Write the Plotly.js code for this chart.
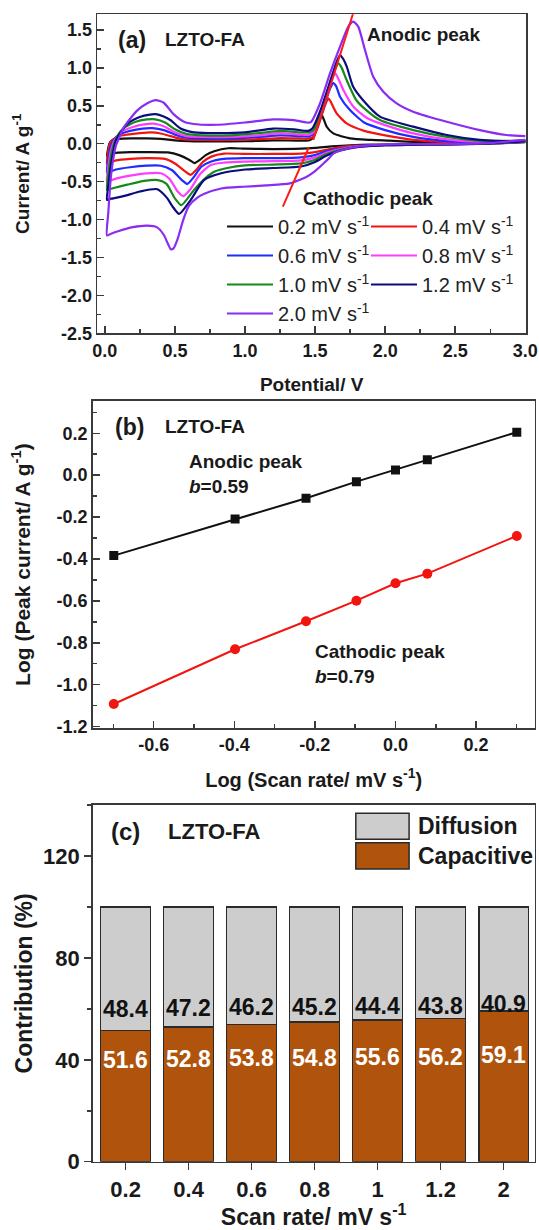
<!DOCTYPE html>
<html>
<head>
<meta charset="utf-8">
<script src="https://cdn.plot.ly/plotly-3.0.1.min.js"></script>
<style>
  html, body { margin: 0; padding: 0; background: #fff; }
  #chart { width: 539px; height: 1230px; }
</style>
</head>
<body>
<div id="chart"></div>
<script>
// ---------- (a) cyclic voltammograms: cathodic sweep from 3.0 V down, then anodic sweep back up ----------
const cv02V = [3.0, 2.7, 2.4, 2.1, 1.9, 1.75, 1.62, 1.5, 1.4, 1.2, 1.0, 0.88, 0.78, 0.72, 0.68, 0.64, 0.6, 0.53, 0.45, 0.3, 0.18, 0.08, 0.035, 0.015,
  0.022, 0.032, 0.05, 0.1, 0.2, 0.3, 0.4, 0.5, 0.6, 0.8, 1.0, 1.2, 1.4, 1.46, 1.49, 1.515, 1.535, 1.547, 1.56, 1.583, 1.63, 1.75, 1.9, 2.03, 2.2, 2.5, 2.8, 3.0];
const cv02I = [0.02, 0.0, -0.005, -0.01, -0.012, -0.02, -0.035, -0.055, -0.065, -0.07, -0.065, -0.06, -0.1, -0.15, -0.21, -0.255, -0.21, -0.15, -0.115, -0.11, -0.112, -0.12, -0.135, -0.16,
  -0.08, 0.0, 0.045, 0.065, 0.07, 0.07, 0.065, 0.045, 0.035, 0.03, 0.033, 0.045, 0.04, 0.045, 0.09, 0.22, 0.34, 0.38, 0.33, 0.224, 0.136, 0.07, 0.05, 0.04, 0.025, 0.012, 0.01, 0.03];

const cv04V = [3.0, 2.7, 2.3, 2.0, 1.8, 1.68, 1.58, 1.5, 1.4, 1.2, 1.0, 0.85, 0.76, 0.7, 0.65, 0.613, 0.57, 0.5, 0.43, 0.3, 0.18, 0.08, 0.035, 0.015,
  0.022, 0.035, 0.055, 0.1, 0.16, 0.25, 0.33, 0.4, 0.47, 0.55, 0.7, 0.9, 1.1, 1.25, 1.4, 1.46, 1.49, 1.52, 1.555, 1.58, 1.595, 1.61, 1.654, 1.725, 1.85, 2.0, 2.2, 2.45, 2.7, 3.0];
const cv04I = [0.025, 0.0, -0.01, -0.015, -0.025, -0.045, -0.08, -0.11, -0.13, -0.135, -0.135, -0.13, -0.17, -0.24, -0.35, -0.41, -0.36, -0.26, -0.2, -0.19, -0.2, -0.22, -0.25, -0.27,
  -0.12, 0.0, 0.05, 0.1, 0.12, 0.14, 0.15, 0.135, 0.1, 0.06, 0.05, 0.05, 0.06, 0.075, 0.07, 0.07, 0.1, 0.22, 0.42, 0.55, 0.6, 0.56, 0.4, 0.268, 0.17, 0.11, 0.05, 0.02, 0.01, 0.03];

const cv06V = [3.0, 2.7, 2.3, 2.0, 1.8, 1.68, 1.58, 1.5, 1.4, 1.2, 1.0, 0.85, 0.75, 0.69, 0.63, 0.589, 0.55, 0.48, 0.4, 0.3, 0.18, 0.08, 0.035, 0.015,
  0.025, 0.04, 0.06, 0.1, 0.18, 0.27, 0.34, 0.42, 0.5, 0.58, 0.7, 0.9, 1.1, 1.25, 1.4, 1.46, 1.49, 1.53, 1.58, 1.61, 1.63, 1.65, 1.678, 1.749, 1.85, 2.0, 2.2, 2.44, 2.7, 3.0];
const cv06I = [0.025, 0.0, -0.01, -0.015, -0.03, -0.06, -0.1, -0.15, -0.18, -0.19, -0.19, -0.2, -0.24, -0.3, -0.45, -0.53, -0.48, -0.35, -0.29, -0.29, -0.31, -0.34, -0.37, -0.38,
  -0.2, -0.04, 0.04, 0.12, 0.17, 0.2, 0.205, 0.18, 0.12, 0.08, 0.07, 0.07, 0.09, 0.11, 0.1, 0.1, 0.13, 0.3, 0.58, 0.74, 0.8, 0.76, 0.62, 0.444, 0.28, 0.18, 0.09, 0.035, 0.015, 0.035];

const cv08V = [3.0, 2.7, 2.3, 2.0, 1.8, 1.68, 1.58, 1.5, 1.4, 1.2, 1.0, 0.85, 0.755, 0.68, 0.61, 0.56, 0.52, 0.46, 0.4, 0.3, 0.18, 0.08, 0.035, 0.015,
  0.025, 0.045, 0.07, 0.12, 0.2, 0.28, 0.35, 0.42, 0.5, 0.58, 0.7, 0.9, 1.1, 1.25, 1.4, 1.46, 1.49, 1.53, 1.59, 1.625, 1.642, 1.66, 1.702, 1.772, 1.87, 2.0, 2.2, 2.44, 2.7, 3.0];
const cv08I = [0.03, 0.0, -0.01, -0.02, -0.035, -0.07, -0.12, -0.18, -0.22, -0.23, -0.235, -0.25, -0.28, -0.4, -0.6, -0.69, -0.63, -0.46, -0.39, -0.39, -0.42, -0.46, -0.49, -0.5,
  -0.3, -0.08, 0.05, 0.16, 0.22, 0.255, 0.265, 0.23, 0.15, 0.1, 0.09, 0.09, 0.11, 0.14, 0.12, 0.12, 0.15, 0.33, 0.66, 0.87, 0.93, 0.88, 0.708, 0.49, 0.34, 0.245, 0.136, 0.057, 0.025, 0.04];

const cv10V = [3.0, 2.7, 2.3, 2.0, 1.8, 1.68, 1.58, 1.5, 1.4, 1.2, 1.0, 0.874, 0.78, 0.72, 0.636, 0.546, 0.5, 0.44, 0.38, 0.28, 0.16, 0.07, 0.03, 0.015,
  0.025, 0.05, 0.08, 0.13, 0.22, 0.3, 0.36, 0.43, 0.5, 0.58, 0.7, 0.9, 1.1, 1.25, 1.4, 1.46, 1.49, 1.54, 1.6, 1.64, 1.666, 1.69, 1.725, 1.796, 1.88, 1.963, 2.2, 2.44, 2.676, 3.0];
const cv10I = [0.03, 0.0, -0.01, -0.02, -0.04, -0.08, -0.14, -0.21, -0.26, -0.275, -0.285, -0.32, -0.37, -0.45, -0.61, -0.81, -0.72, -0.53, -0.48, -0.49, -0.54, -0.58, -0.6, -0.61,
  -0.4, -0.1, 0.07, 0.2, 0.29, 0.32, 0.322, 0.28, 0.19, 0.13, 0.11, 0.11, 0.14, 0.17, 0.15, 0.15, 0.18, 0.42, 0.75, 0.97, 1.06, 1.0, 0.84, 0.57, 0.42, 0.312, 0.18, 0.09, 0.04, 0.04];

const cv12V = [3.0, 2.7, 2.3, 2.0, 1.8, 1.68, 1.58, 1.5, 1.4, 1.2, 1.0, 0.83, 0.707, 0.613, 0.53, 0.48, 0.446, 0.375, 0.25, 0.161, 0.06, 0.03, 0.015,
  0.025, 0.05, 0.08, 0.113, 0.16, 0.208, 0.28, 0.363, 0.42, 0.47, 0.54, 0.636, 0.8, 1.0, 1.2, 1.35, 1.45, 1.48, 1.54, 1.6, 1.65, 1.678, 1.7, 1.726, 1.772, 1.844, 1.963, 2.2, 2.44, 2.676, 2.9, 3.0];
const cv12I = [0.035, 0.0, -0.01, -0.02, -0.045, -0.09, -0.16, -0.24, -0.3, -0.32, -0.34, -0.39, -0.48, -0.74, -0.925, -0.82, -0.72, -0.6, -0.63, -0.677, -0.72, -0.73, -0.74,
  -0.55, -0.2, 0.05, 0.15, 0.26, 0.32, 0.37, 0.39, 0.36, 0.31, 0.2, 0.15, 0.14, 0.15, 0.2, 0.19, 0.17, 0.2, 0.45, 0.78, 1.06, 1.17, 1.12, 1.016, 0.75, 0.57, 0.357, 0.225, 0.115, 0.05, 0.03, 0.04];

const cv20V = [3.0, 2.7, 2.3, 2.03, 1.9, 1.8, 1.7, 1.63, 1.6, 1.56, 1.5, 1.44, 1.32, 1.15, 0.99, 0.83, 0.71, 0.66, 0.6, 0.56, 0.52, 0.49, 0.47, 0.45, 0.42, 0.37, 0.3, 0.2, 0.1, 0.04, 0.015,
  0.025, 0.04, 0.06, 0.08, 0.1, 0.13, 0.16, 0.232, 0.3, 0.363, 0.42, 0.49, 0.565, 0.636, 0.8, 1.0, 1.2, 1.35, 1.44, 1.47, 1.535, 1.607, 1.678, 1.737, 1.772, 1.808, 1.856, 1.915, 1.987, 2.082, 2.2, 2.44, 2.676, 2.866, 3.0];
const cv20I = [0.05, 0.005, -0.005, -0.01, -0.02, -0.04, -0.08, -0.13, -0.19, -0.26, -0.36, -0.435, -0.523, -0.55, -0.567, -0.59, -0.66, -0.71, -0.82, -1.0, -1.25, -1.38, -1.39, -1.32, -1.2, -1.1, -1.08, -1.1, -1.15, -1.19, -1.21,
  -0.9, -0.5, -0.2, -0.02, 0.07, 0.2, 0.28, 0.44, 0.53, 0.575, 0.54, 0.39, 0.29, 0.26, 0.25, 0.28, 0.32, 0.31, 0.28, 0.285, 0.53, 0.93, 1.28, 1.544, 1.61, 1.544, 1.236, 0.884, 0.686, 0.533, 0.423, 0.29, 0.18, 0.115, 0.1];

// guide lines through the anodic and cathodic peak positions
const anodicGuideV = [1.487, 1.78];
const anodicGuideI = [0.05, 1.77];
const cathodicGuideV = [1.27, 1.455];
const cathodicGuideI = [-0.83, -0.05];

// ---------- (b) log peak current vs log scan rate ----------
const logScanRate = [-0.699, -0.398, -0.222, -0.097, 0.0, 0.079, 0.301];
const logAnodicPeak = [-0.384, -0.209, -0.110, -0.031, 0.025, 0.073, 0.205];
const logCathodicPeak = [-1.092, -0.831, -0.697, -0.599, -0.516, -0.470, -0.290];

// ---------- (c) capacitive / diffusion contribution ----------
const scanRateLabels = ['0.2', '0.4', '0.6', '0.8', '1', '1.2', '2'];
const capacitivePct = [51.6, 52.8, 53.8, 54.8, 55.6, 56.2, 59.1];
const diffusionPct = [48.4, 47.2, 46.2, 45.2, 44.4, 43.8, 40.9];

// tick labels
const cvPotentialTicks = [0, 0.5, 1.0, 1.5, 2.0, 2.5, 3.0];
const cvCurrentTicks = [-2.5, -2.0, -1.5, -1.0, -0.5, 0.0, 0.5, 1.0, 1.5];
const logRateTicks = [-0.6, -0.4, -0.2, 0.0, 0.2];
const logPeakTicks = [-1.2, -1.0, -0.8, -0.6, -0.4, -0.2, 0.0, 0.2];
const contributionTicks = [0, 40, 80, 120];

const FONT = 'Liberation Sans, Arial, Helvetica, sans-serif';
const INK = '#1a1a1a';
const FRAME = '#3a3a3a';

const cvSeries = [
  { name: '0.2 mV s<sup>-1</sup>', V: cv02V, I: cv02I, color: '#111111', legend: 'legend' },
  { name: '0.4 mV s<sup>-1</sup>', V: cv04V, I: cv04I, color: '#f2140f', legend: 'legend2' },
  { name: '0.6 mV s<sup>-1</sup>', V: cv06V, I: cv06I, color: '#1f2cff', legend: 'legend' },
  { name: '0.8 mV s<sup>-1</sup>', V: cv08V, I: cv08I, color: '#ff3cff', legend: 'legend2' },
  { name: '1.0 mV s<sup>-1</sup>', V: cv10V, I: cv10I, color: '#16891b', legend: 'legend' },
  { name: '1.2 mV s<sup>-1</sup>', V: cv12V, I: cv12I, color: '#0c0c7c', legend: 'legend2' },
  { name: '2.0 mV s<sup>-1</sup>', V: cv20V, I: cv20I, color: '#8a2cf3', legend: 'legend' }
];

const fmt1 = v => v.toFixed(1);

const traces = [];
cvSeries.forEach(s => {
  traces.push({
    type: 'scatter', mode: 'lines', x: s.V, y: s.I, name: s.name,
    xaxis: 'x', yaxis: 'y', legend: s.legend,
    line: { color: s.color, width: 2.2, shape: 'spline', smoothing: 0.6 },
    hoverinfo: 'skip'
  });
});
[[anodicGuideV, anodicGuideI], [cathodicGuideV, cathodicGuideI]].forEach(g => {
  traces.push({
    type: 'scatter', mode: 'lines', x: g[0], y: g[1], xaxis: 'x', yaxis: 'y',
    showlegend: false, line: { color: '#ff1a1a', width: 2 }, hoverinfo: 'skip'
  });
});

// (b) fitted lines with markers
traces.push({
  type: 'scatter', mode: 'lines+markers', x: logScanRate, y: logAnodicPeak,
  xaxis: 'x2', yaxis: 'y2', showlegend: false,
  line: { color: '#111', width: 2 }, marker: { symbol: 'square', size: 9, color: '#111' }
});
traces.push({
  type: 'scatter', mode: 'lines+markers', x: logScanRate, y: logCathodicPeak,
  xaxis: 'x2', yaxis: 'y2', showlegend: false,
  line: { color: '#f2140f', width: 2 }, marker: { symbol: 'circle', size: 10, color: '#f2140f' }
});

// (c) stacked contribution bars
traces.push({
  type: 'bar', x: scanRateLabels, y: capacitivePct, xaxis: 'x3', yaxis: 'y3',
  showlegend: false, width: 0.79,
  marker: { color: '#b0540d', line: { color: '#2a2a2a', width: 1.5 } }
});
traces.push({
  type: 'bar', x: scanRateLabels, y: diffusionPct, xaxis: 'x3', yaxis: 'y3',
  showlegend: false, width: 0.79,
  marker: { color: '#cdcdcd', line: { color: '#2a2a2a', width: 1.5 } }
});

function frameAxis(extra) {
  return Object.assign({
    showline: true, linecolor: FRAME, linewidth: 1.6, mirror: true,
    showgrid: false, zeroline: false,
    ticks: 'inside', ticklen: 7, tickwidth: 1.5, tickcolor: FRAME,
    tickfont: { family: FONT, size: 18, weight: 700, color: INK },
    fixedrange: true
  }, extra);
}
function axisTitle(text, size, standoff) {
  return { text: text, font: { family: FONT, size: size, weight: 700, color: INK }, standoff: standoff };
}

const annotations = [];
function label(text, x, y, size, opts) {
  annotations.push(Object.assign({
    text: text, x: x, y: y, xref: 'paper', yref: 'paper', showarrow: false,
    xanchor: 'center', yanchor: 'middle',
    font: { family: FONT, size: size, weight: 700, color: INK }
  }, opts || {}));
}
const px = v => v / 539;
const py = v => 1 - v / 1230;

// (a) labels
label('(a)', px(132), py(40), 23);
label('LZTO-FA', px(204.5), py(40), 19);
label('Anodic peak', px(423.7), py(34.3), 19);
label('Cathodic peak', px(367.8), py(198.3), 19);
// (b) labels
label('(b)', px(129), py(426.7), 23);
label('LZTO-FA', px(204.5), py(426.7), 19);
label('Anodic peak', px(187.3), py(461.7), 19, { xanchor: 'left' });
label('<i>b</i>=0.59', px(187.3), py(486.7), 19, { xanchor: 'left' });
label('Cathodic peak', px(312.8), py(651.7), 19, { xanchor: 'left' });
label('<i>b</i>=0.79', px(312.8), py(676.7), 19, { xanchor: 'left' });
// (c) labels
label('(c)', px(125.5), py(831.7), 24);
label('LZTO-FA', px(214.9), py(831.7), 22);
label('Diffusion', px(416), py(826), 23, { xanchor: 'left' });
label('Capacitive', px(416), py(856), 23, { xanchor: 'left' });

// value labels on the bars (category index used as x position)
scanRateLabels.forEach((cat, i) => {
  const shift = (capacitivePct[i] - capacitivePct[0]) * 0.25;
  annotations.push({
    text: fmt1(diffusionPct[i]), x: i, y: 60 + shift, xref: 'x3', yref: 'y3', showarrow: false,
    xanchor: 'center', yanchor: 'middle',
    font: { family: FONT, size: 23, weight: 700, color: '#111' }
  });
  annotations.push({
    text: fmt1(capacitivePct[i]), x: i, y: 40 + shift, xref: 'x3', yref: 'y3', showarrow: false,
    xanchor: 'center', yanchor: 'middle',
    font: { family: FONT, size: 23, weight: 700, color: '#ffffff' }
  });
});

// (c) legend keys
const shapes = [
  { type: 'rect', xref: 'paper', yref: 'paper', x0: px(355.8), x1: px(409.1), y0: py(839.3), y1: py(813.3),
    fillcolor: '#cdcdcd', line: { color: '#2a2a2a', width: 1.5 } },
  { type: 'rect', xref: 'paper', yref: 'paper', x0: px(355.8), x1: px(409.1), y0: py(869), y1: py(842.7),
    fillcolor: '#b0540d', line: { color: '#2a2a2a', width: 1.5 } }
];

const legendStyle = (x) => ({
  x: x, y: py(207), xanchor: 'left', yanchor: 'top', orientation: 'v', traceorder: 'normal',
  bgcolor: 'rgba(0,0,0,0)', borderwidth: 0, itemwidth: 46, tracegroupgap: 0,
  font: { family: FONT, size: 20, color: '#222' }, itemclick: false, itemdoubleclick: false
});

const layout = {
  width: 539, height: 1230,
  margin: { l: 0, r: 0, t: 0, b: 0 },
  paper_bgcolor: '#fff', plot_bgcolor: '#fff',
  showlegend: true,
  legend: legendStyle(px(222)),
  legend2: legendStyle(px(366)),
  xaxis: frameAxis({
    domain: [0.1805, 0.9759], anchor: 'y', range: [-0.054, 3.005],
    tickmode: 'array', tickvals: cvPotentialTicks, ticktext: cvPotentialTicks.map(fmt1),
    minor: { tickmode: 'linear', tick0: 0, dtick: 0.25, ticks: 'inside', ticklen: 4, tickcolor: FRAME },
    title: axisTitle('Potential/ V', 19, 18)
  }),
  yaxis: frameAxis({
    domain: [0.7290, 0.9884], anchor: 'x', range: [-2.5, 1.707],
    tickmode: 'array', tickvals: cvCurrentTicks, ticktext: cvCurrentTicks.map(fmt1),
    minor: { tickmode: 'linear', tick0: 0, dtick: 0.25, ticks: 'inside', ticklen: 4, tickcolor: FRAME },
    title: axisTitle('Current/ A g<sup>-1</sup>', 19, 26)
  }),
  xaxis2: frameAxis({
    domain: [0.1722, 0.9917], anchor: 'y2', range: [-0.751, 0.345],
    tickmode: 'array', tickvals: logRateTicks, ticktext: logRateTicks.map(fmt1),
    minor: { tickmode: 'linear', tick0: 0, dtick: 0.1, ticks: 'inside', ticklen: 4, tickcolor: FRAME },
    title: axisTitle('Log (Scan rate/ mV s<sup>-1</sup>)', 20, 18)
  }),
  yaxis2: frameAxis({
    domain: [0.4079, 0.6740], anchor: 'x2', range: [-1.208, 0.354],
    tickmode: 'array', tickvals: logPeakTicks, ticktext: logPeakTicks.map(fmt1),
    minor: { tickmode: 'linear', tick0: 0, dtick: 0.1, ticks: 'inside', ticklen: 4, tickcolor: FRAME },
    title: axisTitle('Log (Peak current/ A g<sup>-1</sup>)', 21, 20)
  }),
  xaxis3: frameAxis({
    domain: [0.1722, 0.9917], anchor: 'y3', type: 'category', range: [-0.52, 6.49],
    ticks: 'outside', tickfont: { family: FONT, size: 22, weight: 700, color: INK },
    title: axisTitle('Scan rate/ mV s<sup>-1</sup>', 23, 6)
  }),
  yaxis3: frameAxis({
    domain: [0.0555, 0.3455], anchor: 'x3', range: [0, 140],
    tickmode: 'array', tickvals: contributionTicks, ticktext: contributionTicks.map(String),
    ticks: 'outside', tickfont: { family: FONT, size: 22, weight: 700, color: INK },
    minor: { tickmode: 'linear', tick0: 0, dtick: 20, ticks: 'outside', ticklen: 4, tickcolor: FRAME },
    title: axisTitle('Contribution (%)', 23, 4)
  }),
  barmode: 'stack',
  annotations: annotations,
  shapes: shapes
};

Plotly.newPlot('chart', traces, layout, { displayModeBar: false, staticPlot: true });
</script>
</body>
</html>
